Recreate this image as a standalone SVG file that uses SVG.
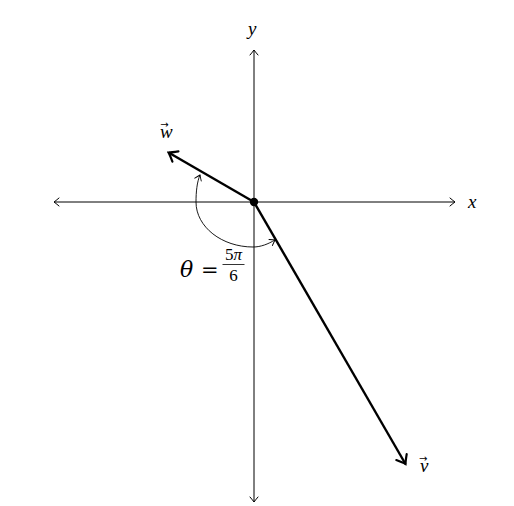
<svg xmlns="http://www.w3.org/2000/svg" width="514" height="506" viewBox="0 0 514 506">
<defs>
<style>
.axis{stroke:#000;stroke-width:1;fill:none}
.vec{stroke:#000;stroke-width:2.4;fill:none}
.arc{stroke:#000;stroke-width:0.9;fill:none}
.lbl{font-family:"Liberation Serif","DejaVu Serif",serif;font-style:italic;fill:#000}
.num{font-family:"Liberation Serif","DejaVu Serif",serif;fill:#000}
.dj{font-family:"DejaVu Serif","Liberation Serif",serif;fill:#000}
.over{font-family:"DejaVu Sans","Liberation Sans",sans-serif;font-style:normal}
</style>
<marker id="ah" viewBox="-6 -5 8 10" markerWidth="8" markerHeight="10" refX="0" refY="0" orient="auto-start-reverse" markerUnits="userSpaceOnUse">
<path d="M-5,-4 Q-1.5,-1 0,0 Q-1.5,1 -5,4" fill="none" stroke="#000" stroke-width="1" stroke-linecap="round"/>
</marker>
<marker id="ahv" viewBox="-12 -8 14 16" markerWidth="14" markerHeight="16" refX="0" refY="0" orient="auto" markerUnits="userSpaceOnUse">
<path d="M-8,-6 Q-2.5,-1.5 0,0 Q-2.5,1.5 -8,6" fill="none" stroke="#000" stroke-width="2.2" stroke-linecap="round"/>
</marker>
<marker id="aha" viewBox="-6 -5 8 10" markerWidth="8" markerHeight="10" refX="0" refY="0" orient="auto-start-reverse" markerUnits="userSpaceOnUse">
<path d="M-5,-3.5 Q-1.5,-1 0,0 Q-1.5,1 -5,3.5" fill="none" stroke="#000" stroke-width="0.9" stroke-linecap="round"/>
</marker>
</defs>
<rect width="514" height="506" fill="#fff"/>
<g id="connectors">
<line id="x-axis" class="axis" x1="54" y1="202" x2="455" y2="202" marker-start="url(#ah)" marker-end="url(#ah)"/>
<line id="y-axis" class="axis" x1="254" y1="50" x2="254" y2="502" marker-start="url(#ah)" marker-end="url(#ah)"/>
<line id="vec-w" class="vec" x1="254" y1="202" x2="168.5" y2="152.5" marker-end="url(#ahv)"/>
<line id="vec-v" class="vec" x1="254" y1="202" x2="405.5" y2="464" marker-end="url(#ahv)"/>
<path id="angle-arc" class="arc" d="M200,175 C197,182 196,192 196,202 C196,227 222,247 253,247 C261,247 268,244 275,240" marker-start="url(#aha)" marker-end="url(#aha)"/>
</g>
<g id="origin"><circle cx="254" cy="202" r="4.2" fill="#000"/></g>
<g id="label-x"><text class="lbl" x="468" y="208" font-size="19">x</text></g>
<g id="label-y"><text class="lbl" x="248" y="35" font-size="19">y</text></g>
<g id="label-w"><text class="lbl" x="160" y="138" font-size="19">w<tspan class="over" font-size="10" dx="-12.5" dy="-10">→</tspan></text></g>
<g id="label-v"><text class="lbl" x="419" y="472" font-size="19">v<tspan class="over" font-size="10" dx="-9.5" dy="-10">→</tspan></text></g>
<g id="label-theta">
<text class="dj" x="180" y="277" font-size="22" font-style="italic">θ</text>
<text class="dj" x="201" y="277" font-size="21">=</text>
<text class="num" x="233.5" y="260" font-size="17" text-anchor="middle">5<tspan font-style="italic">π</tspan></text>
<line x1="222.5" y1="264.5" x2="244.5" y2="264.5" stroke="#000" stroke-width="0.8"/>
<text class="num" x="233.5" y="281" font-size="17" text-anchor="middle">6</text>
</g>
</svg>
